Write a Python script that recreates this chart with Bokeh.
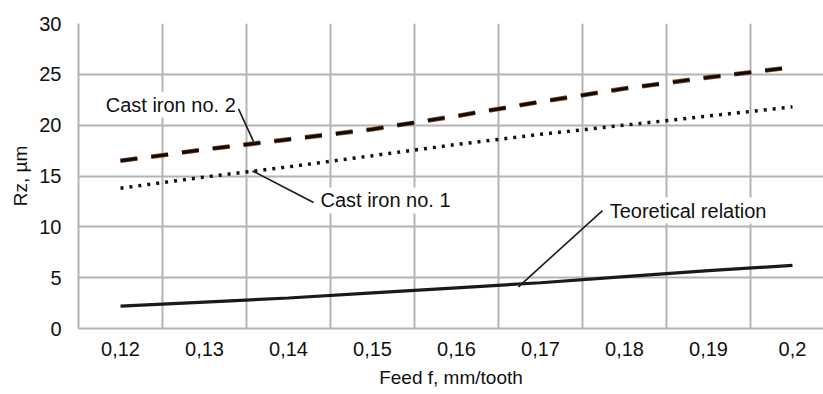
from bokeh.plotting import figure
from bokeh.models import Range1d, FixedTicker, Label
from bokeh.embed import file_html
from bokeh.resources import INLINE

# ---- data ----
feed_labels = ["0,12", "0,13", "0,14", "0,15", "0,16", "0,17", "0,18", "0,19", "0,2"]
cast_iron_2 = [16.5, 17.6, 18.6, 19.6, 20.9, 22.3, 23.6, 24.7, 25.7]
cast_iron_1 = [13.8, 14.9, 15.9, 17.0, 18.1, 19.1, 20.0, 20.9, 21.8]
theoretical = [2.2, 2.6, 3.0, 3.5, 4.0, 4.5, 5.1, 5.7, 6.2]
y_ticks = [0, 5, 10, 15, 20, 25, 30]
x_title = "Feed f, mm/tooth"
y_title = "Rz, µm"

xs = list(range(len(feed_labels)))

FONT = "Liberation Sans"
FS = "20px"
TXT = "#111111"
GRID = "#b4b4b4"

W, H = 823, 394
FL, FB = 78, 328   # frame left / bottom in canvas pixels
p = figure(width=W, height=H, output_backend="svg", toolbar_location=None,
           x_range=Range1d(-0.5, -0.5 + 745 / 84.0), y_range=Range1d(0, 30),
           min_border_left=FL, min_border_right=0, min_border_top=23, min_border_bottom=H - FB)
p.outline_line_color = None
p.background_fill_color = "white"
p.border_fill_color = "white"

# axes
p.xaxis.ticker = FixedTicker(ticks=xs)
p.xaxis.major_label_overrides = {i: s for i, s in enumerate(feed_labels)}
p.yaxis.ticker = FixedTicker(ticks=y_ticks)
for ax in (p.xaxis[0], p.yaxis[0]):
    ax.major_tick_out = 0
    ax.major_tick_in = 0
    ax.minor_tick_out = 0
    ax.minor_tick_in = 0
    ax.axis_line_color = GRID
    ax.axis_line_width = 2
    ax.major_label_text_font = FONT
    ax.major_label_text_font_size = FS
    ax.major_label_text_color = TXT
    ax.axis_label_text_font = FONT
    ax.axis_label_text_font_size = "19px"
    ax.axis_label_text_font_style = "normal"
    ax.axis_label_text_color = TXT
p.xaxis.major_label_standoff = 13
p.yaxis.major_label_standoff = 17
p.xaxis.axis_label = x_title
p.yaxis.axis_label = y_title
p.xaxis.axis_label_standoff = 8
p.yaxis.axis_label_standoff = 5

# grid
p.xgrid.ticker = FixedTicker(ticks=[i + 0.5 for i in range(len(feed_labels))])
p.xgrid.grid_line_color = GRID
p.xgrid.grid_line_width = 2
p.ygrid.ticker = FixedTicker(ticks=y_ticks)
p.ygrid.grid_line_color = GRID
p.ygrid.grid_line_width = 2

# series
p.line(xs, theoretical, line_color="#1a1a1a", line_width=3.2)
p.line(xs, cast_iron_1, line_color="#111111", line_width=3.5, line_dash="3 6")
p.line(xs, cast_iron_2, line_color="#7a4a28", line_width=4.6, line_dash="17 14")
p.line(xs, cast_iron_2, line_color="#140a04", line_width=3.0, line_dash="17 14")

# leader lines (annotation positions)
leaders = [
    ((1.405, 21.6), (1.583, 18.4)),
    ((1.571, 15.5), (2.298, 12.4)),
    ((5.738, 11.6), (4.738, 4.1)),
]
for (x0, y0), (x1, y1) in leaders:
    p.line([x0, x1], [y0, y1], line_color="#1a1a1a", line_width=1.6)

def ann(x, y, text):
    p.add_layout(Label(x=x, y=y, text=text, text_font=FONT, text_font_size="20px",
                       text_color=TXT, text_align="left", text_baseline="middle",
                       background_fill_color="white", padding=2))

ann(-0.2, 22.0, "Cast iron no. 2")
ann(2.357, 12.6, "Cast iron no. 1")
ann(5.80, 11.6, "Teoretical relation")

open("out.html", "w").write(file_html(p, INLINE))
